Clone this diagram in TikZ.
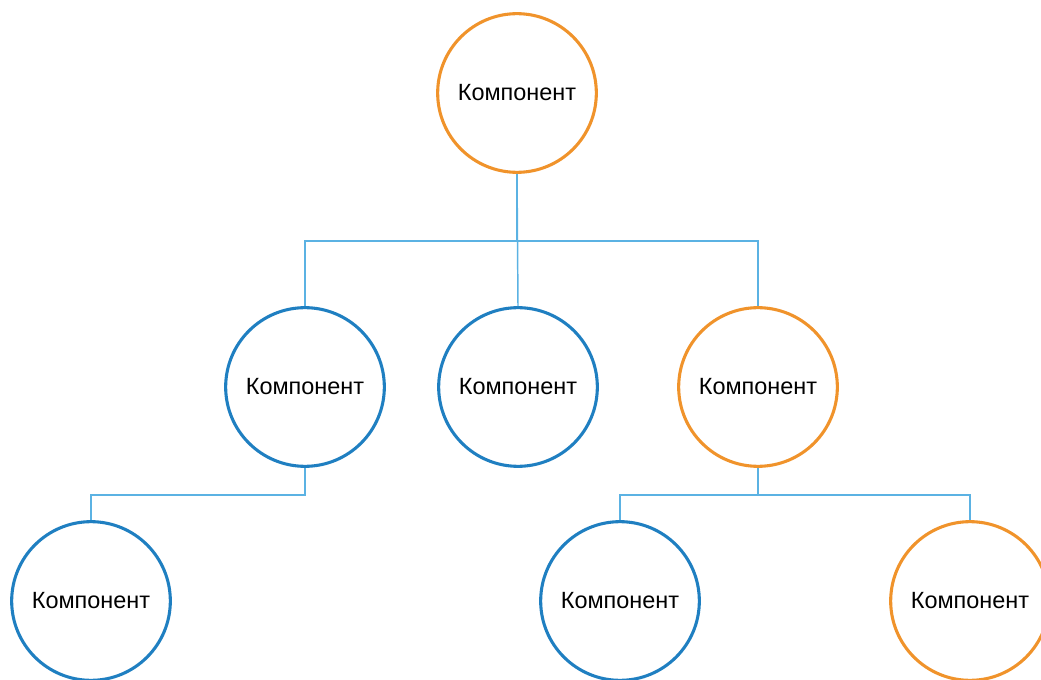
\documentclass[tikz,border=0pt]{standalone}
\usepackage{fontspec}
\setmainfont{Liberation Sans}
\definecolor{ringorange}{HTML}{F0932B}
\definecolor{ringblue}{HTML}{1F7FC1}
\definecolor{linkblue}{HTML}{5BB2E3}
\begin{document}
\begin{tikzpicture}[x=0.75pt,y=-0.75pt,
  comp/.style={circle,draw,line width=2.3pt,fill=white,minimum size=119pt,inner sep=0pt,font=\fontsize{17.6}{21}\selectfont},
  orangecomp/.style={comp,draw=ringorange},
  bluecomp/.style={comp,draw=ringblue},
  link/.style={draw=linkblue,line width=1.1pt}]
\useasboundingbox (0,0) rectangle (1041,680);
% component nodes
\node[orangecomp] (root) at (517,93) {Компонент};
\node[bluecomp]   (m1)   at (305,387) {Компонент};
\node[bluecomp]   (m2)   at (518,387) {Компонент};
\node[orangecomp] (m3)   at (758,387) {Компонент};
\node[bluecomp]   (b1)   at (91,601) {Компонент};
\node[bluecomp]   (b2)   at (620,601) {Компонент};
\node[orangecomp] (b3)   at (970,601) {Компонент};
% bus levels
\coordinate (busA) at (0,241);
\coordinate (busB) at (0,495);
% connectors
\path[link] (root.south) -- (root.south |- busA) -| (m1.north);
\path[link] (root.south) -- (m2.north);
\path[link] (root.south |- busA) -| (m3.north);
\path[link] (m1.south) -- (m1.south |- busB) -| (b1.north);
\path[link] (m3.south) -- (m3.south |- busB) -| (b2.north);
\path[link] (m3.south |- busB) -| (b3.north);
\end{tikzpicture}
\end{document}
